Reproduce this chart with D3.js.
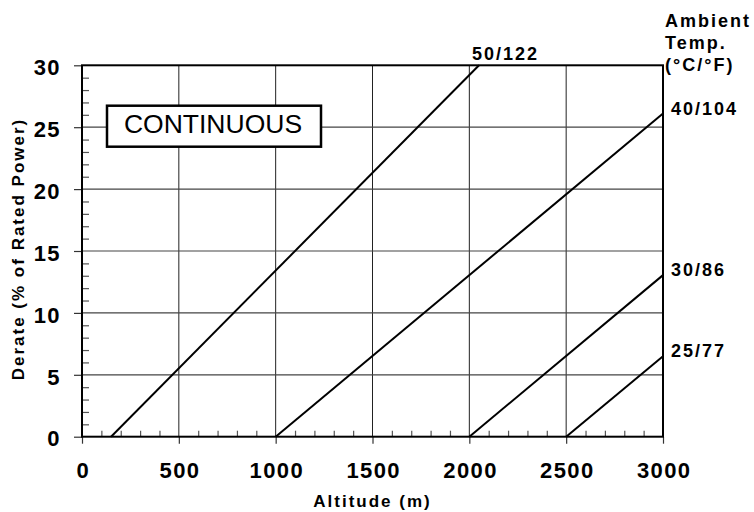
<!DOCTYPE html>
<html>
<head>
<meta charset="utf-8">
<script src="https://cdn.jsdelivr.net/npm/d3@7"></script>
<style>
  body { margin: 0; background: #fff; }
  svg { display: block; font-family: "Liberation Sans", Arial, sans-serif; }
  .num { font-weight: bold; font-size: 22px; letter-spacing: 1.4px; fill: #000; }
  .title { font-weight: bold; font-size: 17px; letter-spacing: 2px; fill: #000; }
  .lbl { font-weight: bold; font-size: 18px; letter-spacing: 2px; fill: #000; }
</style>
</head>
<body>
<svg class="chart" width="754" height="512"></svg>
<script>
// data
const temps = ['50/122', '40/104', '30/86', '25/77']
const startAlt = [150, 1000, 2000, 2500]   // derate 0 here
const endAlt = [2050, 3000, 3000, 3000]
const endDerate = [30, 26.1, 13.05, 6.5]

const xMajor = [0, 500, 1000, 1500, 2000, 2500, 3000]
const yMajor = [0, 5, 10, 15, 20, 25, 30]
const xMinor = d3.range(0, 3001, 100).filter(v => v % 500 !== 0)
const yMinor = d3.range(0, 31, 1).filter(v => v % 5 !== 0)

const frame = { left: 82, right: 663, top: 65.3, bottom: 436.7 }

const svg = d3.select('svg.chart')
const x = d3.scaleLinear().domain([0, 3000]).range([frame.left, frame.right])
const y = d3.scaleLinear().domain([0, 30]).range([frame.bottom, frame.top])
const fmt = d3.format('d')

// grid
svg.append('g').selectAll('line').data(xMajor.slice(1, -1)).join('line')
  .attr('x1', d => x(d)).attr('x2', d => x(d))
  .attr('y1', y(0)).attr('y2', y(30))
  .attr('stroke', '#222').attr('stroke-width', 1)
svg.append('g').selectAll('line').data(yMajor.slice(1, -1)).join('line')
  .attr('x1', x(0)).attr('x2', x(3000))
  .attr('y1', d => y(d)).attr('y2', d => y(d))
  .attr('stroke', '#444').attr('stroke-width', 1.2)

// minor ticks (inside)
svg.append('g')
  .attr('transform', `translate(0,${y(0)})`)
  .call(d3.axisBottom(x).tickValues(xMinor).tickSize(-6).tickFormat(''))
  .call(g => g.select('.domain').remove())
  .call(g => g.selectAll('line').attr('stroke', '#555').attr('stroke-width', 1.2))
svg.append('g')
  .attr('transform', `translate(${x(0)},0)`)
  .call(d3.axisLeft(y).tickValues(yMinor).tickSize(-7).tickFormat(''))
  .call(g => g.select('.domain').remove())
  .call(g => g.selectAll('line').attr('stroke', '#555').attr('stroke-width', 1.2))

// major axes
svg.append('g')
  .attr('transform', `translate(0,${y(0)})`)
  .call(d3.axisBottom(x).tickValues(xMajor).tickFormat(fmt).tickSizeInner(7).tickSizeOuter(0).tickPadding(19))
  .call(g => g.select('.domain').remove())
  .call(g => g.selectAll('line').attr('stroke', '#333').attr('stroke-width', 1.2))
  .call(g => g.selectAll('text').attr('class', 'num').attr('font-size', null).attr('font-family', null).attr('dx', '0.7px'))
svg.append('g')
  .attr('transform', `translate(${x(0)},0)`)
  .call(d3.axisLeft(y).tickValues(yMajor).tickFormat(fmt).tickSizeInner(8).tickSizeOuter(0).tickPadding(13))
  .call(g => g.select('.domain').remove())
  .call(g => g.selectAll('line').attr('stroke', '#333').attr('stroke-width', 1.2))
  .call(g => g.selectAll('text').attr('class', 'num').attr('font-size', null).attr('font-family', null).attr('dy', '0.42em'))

// frame
svg.append('rect')
  .attr('x', x(0)).attr('y', y(30))
  .attr('width', x(3000) - x(0)).attr('height', y(0) - y(30))
  .attr('fill', 'none').attr('stroke', '#000').attr('stroke-width', 2)

// derate lines
const lines = temps.map((t, i) => ({
  name: t,
  pts: [[startAlt[i], 0], [endAlt[i], endDerate[i]]]
}))
const line = d3.line().x(d => x(d[0])).y(d => y(d[1]))
svg.append('g').selectAll('path').data(lines).join('path')
  .attr('d', d => line(d.pts))
  .attr('fill', 'none').attr('stroke', '#000').attr('stroke-width', 2)

// line labels
svg.append('g').selectAll('text').data(lines).join('text')
  .attr('class', 'lbl')
  .attr('x', d => d.pts[1][0] < 3000 ? x(d.pts[1][0]) - 7 : x(3000) + 8)
  .attr('y', d => d.pts[1][0] < 3000 ? y(d.pts[1][1]) - 5 : y(d.pts[1][1]) + 1)
  .text(d => d.name)

// legend heading
const head = svg.append('text').attr('class', 'lbl').attr('x', 665)
;['Ambient', 'Temp.', '(°C/°F)'].forEach((s, i) => {
  head.append('tspan').attr('x', 665).attr('y', 27 + i * 22).text(s)
})

// axis titles
svg.append('text').attr('class', 'title')
  .attr('text-anchor', 'middle')
  .attr('x', (x(0) + x(3000)) / 2).attr('y', 507)
  .text('Altitude (m)')
svg.append('text').attr('class', 'title')
  .attr('text-anchor', 'middle')
  .attr('transform', `translate(24,249) rotate(-90)`)
  .text('Derate (% of Rated Power)')

// CONTINUOUS box
svg.append('rect')
  .attr('x', 107).attr('y', 105.7).attr('width', 214).attr('height', 41)
  .attr('fill', '#fff').attr('stroke', '#000').attr('stroke-width', 2.5)
svg.append('text')
  .attr('x', 213).attr('y', 133)
  .attr('text-anchor', 'middle')
  .attr('font-size', 26.5)
  .text('CONTINUOUS')
</script>
</body>
</html>
